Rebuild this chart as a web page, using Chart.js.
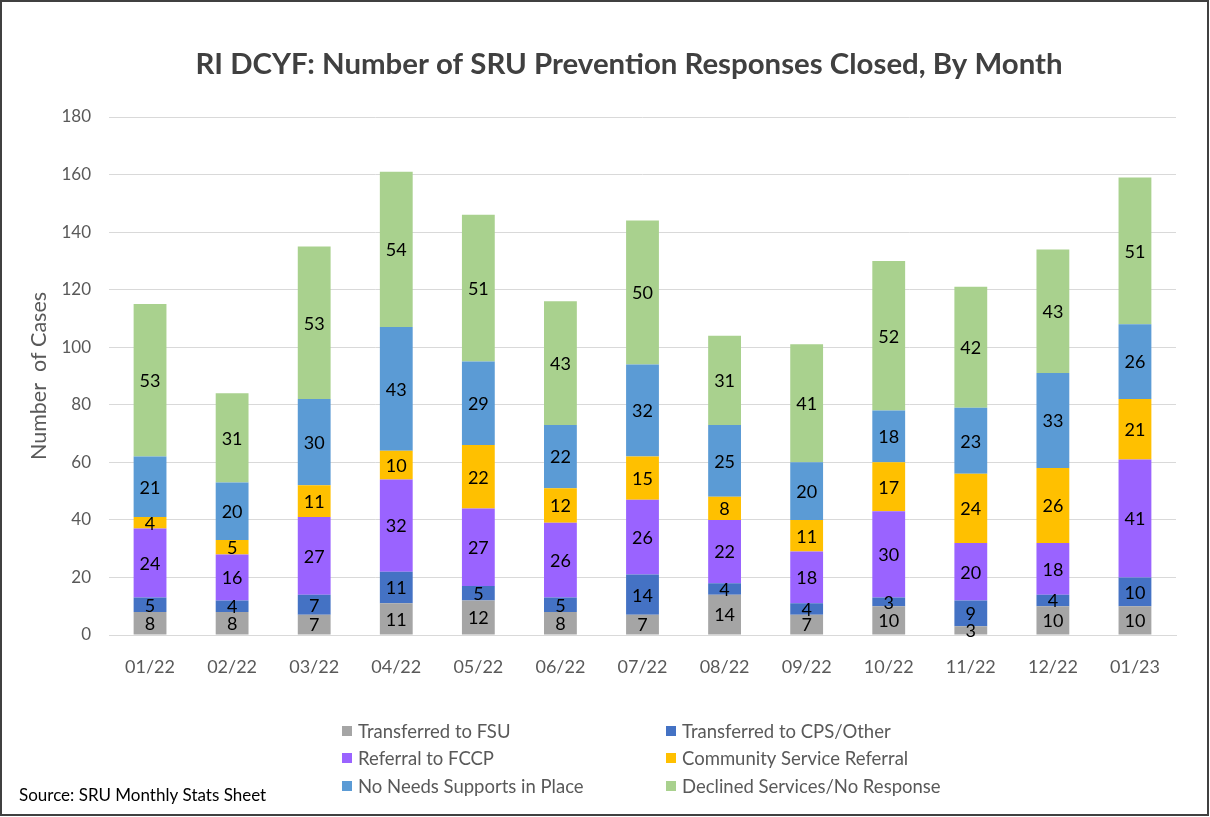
<!DOCTYPE html>
<html>
<head>
<meta charset="utf-8">
<script src="https://cdn.jsdelivr.net/npm/chart.js@4"></script>
<style>
  html,body{margin:0;padding:0;background:#fff;}
  #wrap{width:1210px;height:817px;position:relative;}
</style>
</head>
<body>
<div id="wrap"><canvas id="c" width="1210" height="817"></canvas></div>
<script>
const months = ['01/22','02/22','03/22','04/22','05/22','06/22','07/22','08/22','09/22','10/22','11/22','12/22','01/23'];
const transferredFSU = [8,8,7,11,12,8,7,14,7,10,3,10,10];
const transferredCPS = [5,4,7,11,5,5,14,4,4,3,9,4,10];
const referralFCCP = [24,16,27,32,27,26,26,22,18,30,20,18,41];
const communityReferral = [4,5,11,10,22,12,15,8,11,17,24,26,21];
const noNeeds = [21,20,30,43,29,22,32,25,20,18,23,33,26];
const declined = [53,31,53,54,51,43,50,31,41,52,42,43,51];
const seriesNames = ['Transferred to FSU','Transferred to CPS/Other','Referral to FCCP','Community Service Referral','No Needs Supports in Place','Declined Services/No Response'];
const seriesColors = ['#A5A5A5','#4472C4','#9A63FF','#FFC000','#5B9BD5','#A9D18E'];
const seriesData = [transferredFSU,transferredCPS,referralFCCP,communityReferral,noNeeds,declined];

const FONT = 'Lato, "Open Sans", sans-serif';

const labelPlugin = {
  id: 'segLabels',
  afterDatasetsDraw(chart){
    const ctx = chart.ctx;
    ctx.save();
    ctx.font = '18px ' + FONT;
    ctx.fillStyle = '#000';
    ctx.textAlign = 'center';
    ctx.textBaseline = 'middle';
    chart.data.datasets.forEach((ds, i) => {
      const meta = chart.getDatasetMeta(i);
      meta.data.forEach((bar, j) => {
        const v = ds.data[j];
        const y = (bar.y + bar.base) / 2;
        ctx.fillText(String(v), bar.x, y + 1);
      });
    });
    ctx.restore();
  }
};

const decorPlugin = {
  id: 'decor',
  afterDraw(chart){
    const ctx = chart.ctx;
    ctx.save();
    // title
    ctx.font = 'bold 29.4px ' + FONT;
    ctx.fillStyle = '#404040';
    ctx.textAlign = 'center';
    ctx.textBaseline = 'middle';
    ctx.fillText('RI DCYF: Number of SRU Prevention Responses Closed, By Month', 629, 65);
    // legend
    ctx.font = '18.5px ' + FONT;
    ctx.textAlign = 'left';
    const cols = [342, 666];
    const rows = [731, 758, 786];
    chart.data.datasets.forEach((ds, i) => {
      const cx = cols[i % 2], cy = rows[Math.floor(i / 2)];
      ctx.fillStyle = ds.backgroundColor;
      ctx.fillRect(cx, cy - 5, 10, 10);
      ctx.fillStyle = '#595959';
      ctx.fillText(ds.label, cx + 16, cy + 1);
    });
    // source
    ctx.fillStyle = '#000';
    ctx.font = '17px ' + FONT;
    ctx.fillText('Source: SRU Monthly Stats Sheet', 19, 796);
    // border
    ctx.strokeStyle = '#404040';
    ctx.lineWidth = 2;
    ctx.strokeRect(1, 1, 1207, 814);
    ctx.restore();
  }
};

new Chart(document.getElementById('c'), {
  type: 'bar',
  data: {
    labels: months,
    datasets: seriesNames.map((n, i) => ({
      label: n,
      data: seriesData[i],
      backgroundColor: seriesColors[i],
      borderWidth: 0,
      barPercentage: 0.8,
      categoryPercentage: 0.5
    }))
  },
  options: {
    responsive: false,
    animation: false,
    devicePixelRatio: 1,
    layout: { padding: { left: 20, right: 34, top: 117, bottom: 122 } },
    plugins: { legend: { display: false }, title: { display: false }, tooltip: { enabled: false } },
    scales: {
      x: {
        stacked: true,
        grid: { display: false },
        border: { display: true, color: '#d9d9d9' },
        ticks: { color: '#595959', font: { size: 18, family: FONT }, padding: 13, maxRotation: 0 },
        afterFit(s){ s.height = 60; }
      },
      y: {
        stacked: true,
        min: 0, max: 180,
        ticks: { stepSize: 20, color: '#595959', font: { size: 17, family: FONT }, padding: 18 },
        grid: { color: '#d9d9d9', drawTicks: false },
        border: { display: false },
        title: { display: true, text: 'Number  of Cases', color: '#595959', font: { size: 21.5, family: FONT }, padding: 6 },
        afterFit(s){ s.width = 89; }
      }
    }
  },
  plugins: [labelPlugin, decorPlugin]
});
</script>
</body>
</html>
